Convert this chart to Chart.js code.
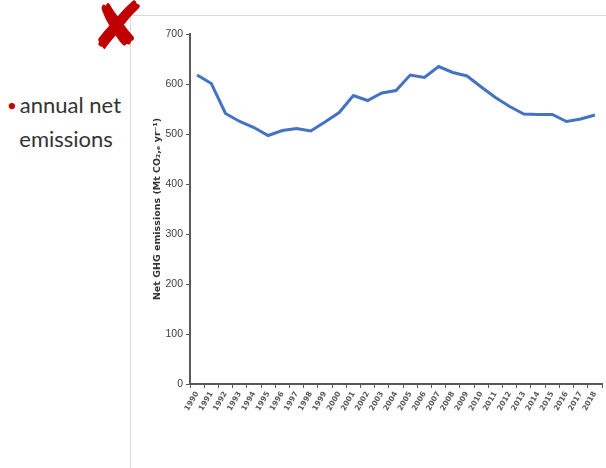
<!DOCTYPE html>
<html>
<head>
<meta charset="utf-8">
<script src="https://cdn.jsdelivr.net/npm/chart.js@4/dist/chart.umd.min.js"></script>
<style>
  html, body { margin: 0; padding: 0; background: #fff; }
  body { width: 606px; height: 468px; position: relative; overflow: hidden; font-family: Lato, "Open Sans", sans-serif; }
  #frame { position: absolute; left: 130px; top: 15px; width: 480px; height: 460px; border-left: 1px solid #d9d9d9; border-top: 1px solid #d9d9d9; }
  #cross { position: absolute; left: 90px; top: -6px; font-family: "DejaVu Sans", sans-serif; font-size: 66px; font-weight: bold; color: #c00000; line-height: 1; }
  #bullet { position: absolute; left: 8px; top: 88px; font-size: 22px; line-height: 34px; color: #333; }
  #bullet span { color: #c00000; font-size: 13px; vertical-align: 3px; margin-right: 4px; }
  #wrap { position: absolute; left: 140px; top: 20px; width: 466px; height: 448px; }
</style>
</head>
<body>
<div id="frame"></div>
<div id="cross">✘</div>
<div id="bullet"><span>●</span>annual net<br>&nbsp;&nbsp;emissions</div>
<div id="wrap"><canvas id="myChart"></canvas></div>
<script>
// años y emisiones netas (Mt CO2e / año)
const years = ['1990','1991','1992','1993','1994','1995','1996','1997','1998','1999',
  '2000','2001','2002','2003','2004','2005','2006','2007','2008','2009',
  '2010','2011','2012','2013','2014','2015','2016','2017','2018'];
const netEmissions = [618, 601, 541, 525, 513, 497, 507, 511, 506, 524,
  543, 577, 567, 582, 587, 618, 613, 635, 623, 616,
  594, 573, 555, 540, 539, 539, 525, 530, 538];
const yTicks = [0, 100, 200, 300, 400, 500, 600, 700];

const axisColor = '#595959';

const ctx = document.getElementById('myChart').getContext('2d');
new Chart(ctx, {
  type: 'line',
  data: {
    labels: years,
    datasets: [{
      label: 'Net GHG emissions',
      data: netEmissions,
      borderColor: '#4472c4',
      borderWidth: 3,
      pointRadius: 0,
      tension: 0,
      fill: false
    }]
  },
  options: {
    responsive: true,
    maintainAspectRatio: false,
    animation: false,
    layout: { padding: { top: 14, right: 4, left: 12, bottom: 0 } },
    plugins: { legend: { display: false }, tooltip: { enabled: false } },
    scales: {
      x: {
        offset: true,
        grid: {
          display: true,
          offset: true,
          drawOnChartArea: false,
          drawTicks: true,
          tickLength: 4,
          tickColor: axisColor,
          tickWidth: 1
        },
        border: { display: true, color: axisColor, width: 2 },
        ticks: {
          color: '#595959',
          font: { family: 'DejaVu Sans', size: 7.5, weight: 'bold' },
          minRotation: 60,
          maxRotation: 60,
          autoSkip: false,
          padding: 2
        },
        afterFit: scale => { scale.height = 84; }
      },
      y: {
        min: 0,
        max: 700,
        afterBuildTicks: scale => { scale.ticks = yTicks.map(v => ({ value: v })); },
        grid: {
          drawOnChartArea: false,
          drawTicks: true,
          tickLength: 4,
          tickColor: axisColor,
          tickWidth: 1
        },
        border: { display: true, color: axisColor, width: 2 },
        ticks: {
          color: '#404040',
          font: { family: 'Liberation Sans', size: 10.5 },
          padding: 3
        },
        title: {
          display: true,
          text: 'Net GHG emissions (Mt CO\u2082,\u2091 yr\u207B\u00B9)',
          color: '#333',
          font: { family: 'DejaVu Sans', size: 9.5, weight: 'bold' },
          padding: { top: 0, bottom: 2 }
        },
        afterFit: scale => { scale.width = 38; }
      }
    }
  }
});
</script>
</body>
</html>
